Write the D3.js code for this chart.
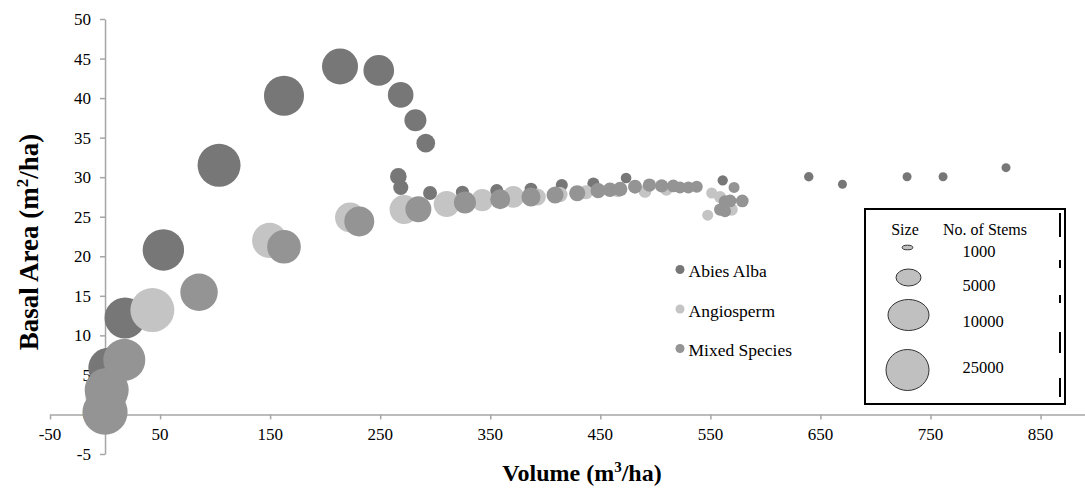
<!DOCTYPE html>
<html><head><meta charset="utf-8">
<script src="https://cdn.jsdelivr.net/npm/d3@7"></script>
<style>
body{margin:0;background:#fff}
svg{display:block}
text{font-family:"Liberation Serif","Times New Roman",serif;fill:#000}
</style>
</head><body>
<svg id="chart" width="1085" height="488"></svg>
<script>
// ---------- data ----------
const seriesNames = ["Abies Alba", "Angiosperm", "Mixed Species"];

const abiesVolume = [3, 18.2, 53, 103.6, 162.6, 213.5, 248.7, 268.6, 282, 291.4, 266.5, 268.7, 295.3, 324.7, 355.9, 387, 415, 443.7, 473.4, 561.2, 639.4, 670, 728.7, 761.4, 818.6];
const abiesBasal  = [5.9, 12.2, 20.8, 31.5, 40.3, 44.0, 43.5, 40.4, 37.2, 34.3, 30.1, 28.7, 28.0, 28.1, 28.3, 28.5, 29.0, 29.2, 29.9, 29.6, 30.05, 29.1, 30.05, 30.05, 31.2];
const abiesStems  = [19800, 20800, 21200, 22800, 19800, 16000, 11600, 8100, 6000, 4300, 3400, 2800, 2400, 2100, 2100, 2000, 1800, 1800, 1400, 1300, 1100, 1000, 1000, 1000, 1000];

const angioVolume = [1, 43, 149.6, 222.6, 271.7, 310.4, 342.8, 371, 392.8, 413.4, 437, 466, 490.6, 510, 551.2, 558.8, 569.4, 547.6];
const angioBasal  = [2.5, 13.2, 22.0, 24.9, 25.9, 26.6, 27.1, 27.5, 27.5, 27.8, 28.1, 28.3, 28.2, 28.4, 28.0, 27.5, 25.9, 25.2];
const angioStems  = [21800, 23900, 15300, 11100, 10400, 8300, 6000, 5800, 3600, 2800, 2400, 2200, 2000, 1800, 1500, 1800, 1800, 1500];

const mixedVolume = [0, 1.5, 17.5, 85.4, 162.6, 231, 284.7, 327, 359, 387, 408.9, 429, 448, 458.8, 468, 481.5, 494.6, 505.8, 516.3, 522.4, 530, 537.6, 571.5, 563.3, 567.9, 579, 558.8, 563.3];
const mixedBasal  = [0.3, 3.1, 6.9, 15.45, 21.2, 24.4, 25.95, 26.8, 27.2, 27.5, 27.75, 27.97, 28.3, 28.4, 28.5, 28.8, 29.0, 28.9, 28.9, 28.7, 28.7, 28.8, 28.7, 26.9, 27.0, 27.0, 25.9, 25.7];
const mixedStems  = [25200, 23900, 21800, 17300, 14000, 11100, 8300, 6000, 4900, 4500, 3600, 3200, 2800, 2600, 2600, 2400, 2200, 2200, 2000, 1800, 1800, 1800, 1500, 2000, 2000, 2000, 1800, 1800];

const xTickValues = [-50, 50, 150, 250, 350, 450, 550, 650, 750, 850];
const yTickValues = [-5, 0, 5, 10, 15, 20, 25, 30, 35, 40, 45, 50];
const legendStemLabels = ["1000", "5000", "10000", "25000"];

// ---------- drawing ----------
const svg = d3.select("#chart");
const x = d3.scaleLinear().domain([-50, 900]).range([50, 1095.6]);
const y = d3.scaleLinear().domain([-5, 50]).range([454, 19]);
const r = d3.scaleSqrt().domain([0, 25000]).range([0, 22.5]);

const colors = ["#777777", "#c4c4c4", "#949494"];
const series = [
  {name: seriesNames[0], vol: abiesVolume, ba: abiesBasal, st: abiesStems, color: colors[0]},
  {name: seriesNames[1], vol: angioVolume, ba: angioBasal, st: angioStems, color: colors[1]},
  {name: seriesNames[2], vol: mixedVolume, ba: mixedBasal, st: mixedStems, color: colors[2]}
];

const axisColor = "#a6a6a6";

// X axis at y = 0
const xAxis = d3.axisBottom(x).tickValues(xTickValues).tickSize(5).tickSizeOuter(0).tickFormat(d3.format("d"));
const gx = svg.append("g").attr("transform", `translate(0,${y(0)})`).call(xAxis);
gx.select(".domain").attr("stroke", axisColor).attr("stroke-width", 1.5);
gx.selectAll(".tick line").attr("stroke", axisColor).attr("stroke-width", 1.5);
gx.selectAll(".tick text").remove();
svg.append("g").selectAll("text").data(xTickValues).join("text")
  .attr("x", d => x(d)).attr("y", 439.5)
  .attr("text-anchor", "middle").attr("font-size", 17)
  .text(d => d);

// Y axis at x = 0
const yAxis = d3.axisLeft(y).tickValues(yTickValues).tickSize(5).tickSizeOuter(0).tickFormat(d3.format("d"));
const gy = svg.append("g").attr("transform", `translate(${x(0)},0)`).call(yAxis);
gy.select(".domain").attr("stroke", axisColor).attr("stroke-width", 1.5);
gy.selectAll(".tick line").attr("stroke", axisColor).attr("stroke-width", 1.5);
gy.selectAll(".tick text").remove();
svg.append("g").selectAll("text").data(yTickValues).join("text")
  .attr("x", 91).attr("y", d => y(d) + 6)
  .attr("text-anchor", "end").attr("font-size", 17)
  .text(d => d);

// bubbles
series.forEach(s => {
  const pts = s.vol.map((v, i) => ({v, b: s.ba[i], n: s.st[i]}));
  svg.append("g").selectAll("circle").data(pts).join("circle")
    .attr("cx", d => x(d.v)).attr("cy", d => y(d.b)).attr("r", d => r(d.n))
    .attr("fill", s.color);
});

// series legend
const lg = svg.append("g");
series.forEach((s, i) => {
  const cy = 269.5 + i * 39.5;
  lg.append("circle").attr("cx", 680).attr("cy", cy).attr("r", 4.5).attr("fill", s.color);
  lg.append("text").attr("x", 688.5).attr("y", cy + 7.5).attr("font-size", 17.5).text(s.name);
});

// size legend box
const sl = svg.append("g");
sl.append("rect").attr("x", 865).attr("y", 209).attr("width", 200).attr("height", 195)
  .attr("fill", "#fff").attr("stroke", "#000").attr("stroke-width", 2);
[[213, 237], [260, 268], [295, 303], [332, 353], [378, 397]].forEach(seg => {
  sl.append("line").attr("x1", 1060).attr("x2", 1060).attr("y1", seg[0]).attr("y2", seg[1])
    .attr("stroke", "#000").attr("stroke-width", 2);
});
sl.append("text").attr("x", 905).attr("y", 235).attr("text-anchor", "middle").attr("font-size", 16).text("Size");
sl.append("text").attr("x", 985).attr("y", 235).attr("text-anchor", "middle").attr("font-size", 16).text("No. of Stems");
const ellipses = [
  {cx: 907.5, cy: 247.5, rx: 5.3, ry: 2.3, ty: 256.5},
  {cx: 908.5, cy: 277.5, rx: 12.5, ry: 8.5, ty: 291},
  {cx: 908.5, cy: 315, rx: 20.5, ry: 15.5, ty: 327},
  {cx: 907.5, cy: 370, rx: 21.5, ry: 20.5, ty: 373}
];
ellipses.forEach((e, i) => {
  sl.append("ellipse").attr("cx", e.cx).attr("cy", e.cy).attr("rx", e.rx).attr("ry", e.ry)
    .attr("fill", "#c0c0c0").attr("stroke", "#333").attr("stroke-width", 1);
  sl.append("text").attr("x", 962.5).attr("y", e.ty).attr("font-size", 16.5).text(legendStemLabels[i]);
});

// axis titles
const xt = svg.append("text").attr("x", 582).attr("y", 481).attr("text-anchor", "middle")
  .attr("font-size", 24).attr("font-weight", "bold");
xt.append("tspan").text("Volume (m");
xt.append("tspan").attr("dy", -9).attr("font-size", 15).text("3");
xt.append("tspan").attr("dy", 9).text("/ha)");

const yt = svg.append("text").attr("transform", "translate(38,242) rotate(-90)").attr("text-anchor", "middle")
  .attr("font-size", 27).attr("font-weight", "bold");
yt.append("tspan").text("Basal Area (m");
yt.append("tspan").attr("dy", -10).attr("font-size", 17).text("2");
yt.append("tspan").attr("dy", 10).text("/ha)");
</script>
</body></html>
